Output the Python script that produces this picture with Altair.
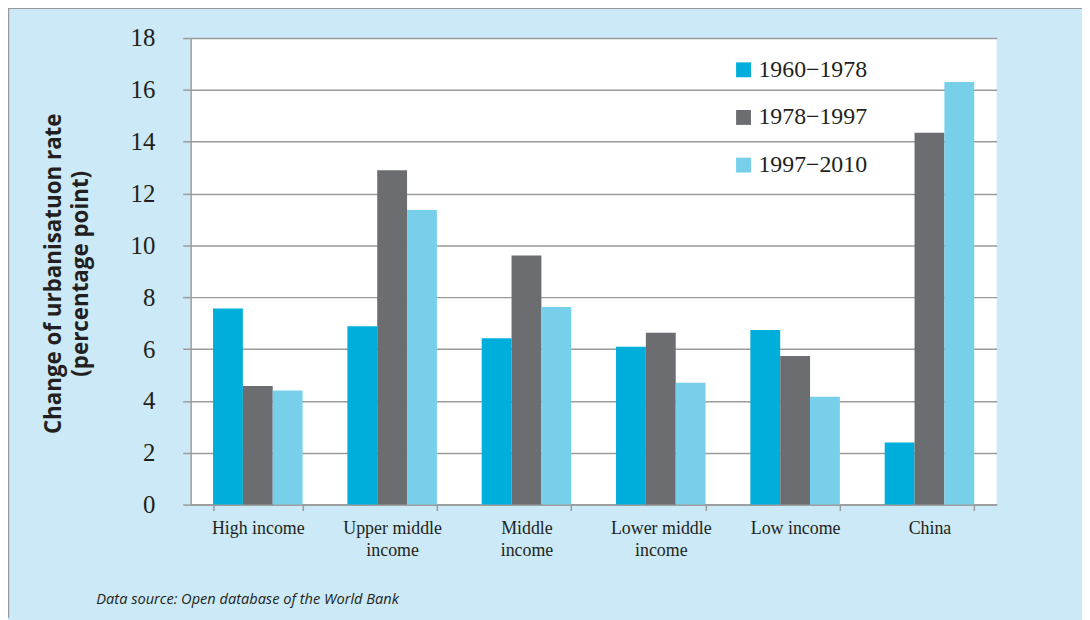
import altair as alt
import pandas as pd

categories = ["High income", "Upper middle income", "Middle income",
              "Lower middle income", "Low income", "China"]
label_lines = [["High income"], ["Upper middle", "income"], ["Middle", "income"],
               ["Lower middle", "income"], ["Low income"], ["China"]]
periods = ["1960\u22121978", "1978\u22121997", "1997\u22122010"]
v_1960_1978 = [7.57, 6.88, 6.42, 6.09, 6.74, 2.40]
v_1978_1997 = [4.58, 12.90, 9.61, 6.63, 5.73, 14.35]
v_1997_2010 = [4.40, 11.37, 7.62, 4.70, 4.16, 16.30]
colors = ["#00aedb", "#6c6d70", "#77cfea"]
y_ticks = list(range(0, 19, 2))
footer = "Data source: Open database of the World Bank"

rows = []
for p, vals in zip(periods, [v_1960_1978, v_1978_1997, v_1997_2010]):
    for c, v in zip(categories, vals):
        rows.append({"category": c, "period": p, "value": v})
df = pd.DataFrame(rows)

expr = "datum.label"
for c, lines in reversed(list(zip(categories, label_lines))):
    arr = "[" + ",".join("'" + s + "'" for s in lines) + "]"
    expr = f"datum.label == '{c}' ? {arr} : ({expr})"

GRAY = "#9a9a9a"
TXT = "#231f20"

bars = alt.Chart(df).mark_bar().encode(
    x=alt.X("category:N", sort=categories, title=None,
            scale=alt.Scale(paddingInner=1/3, paddingOuter=1/6),
            axis=alt.Axis(labelAngle=0, labelExpr=expr, labelFont="Liberation Serif",
                          labelFontSize=18, labelColor=TXT, labelLineHeight=22,
                          labelPadding=9, tickSize=6, tickColor=GRAY, tickWidth=1.5,
                          tickBand="extent", domainColor=GRAY, domainWidth=1.5,
                          grid=False, labelBaseline="top")),
    xOffset=alt.XOffset("period:N", sort=periods, scale=alt.Scale(paddingInner=0, paddingOuter=0)),
    y=alt.Y("value:Q", scale=alt.Scale(domain=[0, 18], nice=False),
            title=["Change of urbanisatuon rate", "(percentage point)"],
            axis=alt.Axis(values=y_ticks, labelFont="Liberation Serif", labelFontSize=25,
                          labelColor=TXT, labelPadding=28, tickSize=8, tickColor=GRAY,
                          tickWidth=1.5, domainColor=GRAY, domainWidth=1.5,
                          gridColor=GRAY, gridWidth=1.5,
                          titleFont="Open Sans", titleFontSize=22.5, titleFontWeight="bold",
                          titleColor=TXT, titleAngle=-90, titleAlign="center",
                          titleBaseline="top", titleX=-149, titleY=237,
                          titleLineHeight=27)),
    color=alt.Color("period:N", sort=periods,
                    scale=alt.Scale(domain=periods, range=colors),
                    legend=alt.Legend(title=None, orient="none", legendX=545, legendY=20,
                                      symbolType="square", symbolSize=225,
                                      symbolStrokeWidth=0, labelFont="Liberation Serif",
                                      labelFontSize=24, labelColor=TXT, labelOffset=3,
                                      rowPadding=24, padding=0)),
)

foot = alt.Chart(pd.DataFrame({"t": [footer]})).mark_text(
    font="Open Sans", fontStyle="italic", fontSize=14.7, color=TXT,
    align="left", baseline="middle"
).encode(text="t:N", x=alt.value(-95), y=alt.value(566))

frame_top = alt.Chart(pd.DataFrame({"a": [0]})).mark_rule(color=GRAY, strokeWidth=1.5).encode(
    x=alt.value(-185), x2=alt.value(904), y=alt.value(-30))
frame_left = alt.Chart(pd.DataFrame({"a": [0]})).mark_rule(color=GRAY, strokeWidth=1.5).encode(
    x=alt.value(-183.5), y=alt.value(-31), y2=alt.value(584))

chart = alt.layer(bars, foot, frame_top, frame_left).properties(
    width=812, height=470,
    background="#cbe9f6",
    padding={"left": 184, "top": 28, "right": 86, "bottom": 114},
    autosize=alt.AutoSizeParams(type="none"),
).configure_view(fill="white", stroke=None)

chart.save("out.html", embed_options={"renderer": "svg", "actions": False})
